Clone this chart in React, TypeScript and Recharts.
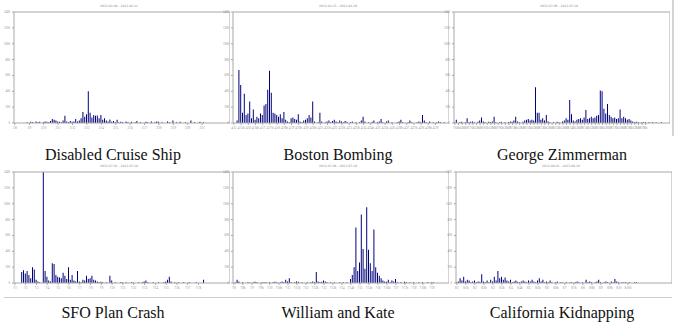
import { BarChart, Bar, XAxis, YAxis } from 'recharts';

// tweet volume per time bin
const cruiseShip = [
  0, 0, 0, 0, 0, 0, 0, 10, 0, 15,
  10, 0, 20, 10, 15, 0, 10, 20, 15, 10,
  25, 50, 40, 30, 20, 15, 10, 30, 90, 20,
  10, 25, 15, 20, 50, 20, 30, 60, 140, 80,
  110, 400, 130, 70, 100, 90, 95, 60, 100, 40,
  60, 30, 20, 45, 15, 25, 10, 40, 5, 15,
  10, 0, 20, 10, 0, 15, 0, 10, 25, 0,
  10, 0, 0, 15, 10, 0, 20, 0, 10, 20,
  15, 0, 10, 0, 0, 20, 10, 0, 30, 0,
  10, 0, 15, 0, 0, 10, 0, 0, 30, 0,
  10, 0, 0, 15, 0, 10, 0, 0, 0, 0,
  0, 0, 0, 0, 0, 0, 0, 0, 0, 0,
];

const bostonBombing = [
  0, 0, 30, 670, 480, 130, 370, 100, 120, 270,
  60, 170, 40, 80, 60, 120, 100, 220, 240, 420,
  660, 380, 130, 120, 100, 80, 110, 60, 140, 40,
  20, 10, 60, 70, 50, 40, 110, 20, 10, 30,
  40, 60, 100, 70, 270, 20, 0, 10, 130, 20,
  0, 10, 20, 30, 10, 25, 40, 20, 10, 30,
  20, 10, 25, 15, 0, 10, 20, 0, 10, 0,
  10, 30, 80, 20, 0, 10, 0, 15, 30, 0,
  10, 20, 50, 10, 0, 20, 30, 0, 10, 0,
  0, 10, 20, 40, 10, 0, 0, 10, 30, 10,
  0, 0, 10, 20, 10, 100, 30, 10, 0, 20,
  0, 10, 0, 10, 20, 10, 0, 10, 0, 0,
];

const georgeZimmerman = [
  10, 40, 0, 10, 15, 0, 10, 60, 10, 15,
  20, 10, 0, 15, 30, 70, 20, 10, 0, 15,
  10, 20, 80, 10, 0, 10, 15, 0, 10, 0,
  10, 20, 15, 30, 80, 20, 10, 0, 15, 30,
  40, 50, 30, 40, 30, 450, 130, 130, 40, 60,
  30, 100, 20, 10, 0, 10, 0, 15, 10, 0,
  20, 30, 60, 40, 290, 110, 30, 20, 40, 50,
  60, 40, 70, 165, 50, 60, 80, 60, 70, 90,
  100, 410, 400, 180, 120, 240, 100, 80, 60, 70,
  50, 60, 170, 60, 80, 60, 40, 50, 30, 20,
  10, 15, 10, 0, 10, 5, 10, 0, 10, 0,
  10, 0, 5, 0, 0, 10, 0, 0, 0, 0,
];

const sfoCrash = [
  0, 0, 0, 0, 140, 160, 120, 150, 100, 60,
  200, 170, 40, 20, 10, 0, 1400, 150, 80, 30,
  20, 250, 240, 100, 80, 70, 60, 130, 90, 50,
  200, 40, 100, 30, 20, 150, 20, 10, 40, 30,
  90, 50, 60, 90, 40, 30, 20, 10, 15, 10,
  0, 10, 0, 90, 30, 0, 10, 0, 0, 10,
  5, 0, 10, 0, 0, 10, 5, 0, 0, 10,
  0, 10, 20, 30, 10, 0, 0, 10, 0, 0,
  10, 0, 0, 10, 20, 40, 80, 20, 0, 10,
  0, 10, 0, 0, 10, 0, 0, 10, 0, 0,
  0, 10, 0, 0, 0, 40, 0, 0, 0, 0,
  0, 0, 0, 0, 0, 0, 0, 0, 0, 0,
];

const williamKate = [
  0, 10, 40, 20, 0, 10, 0, 0, 10, 5,
  0, 10, 15, 10, 0, 0, 10, 5, 10, 0,
  10, 0, 10, 15, 10, 0, 10, 20, 10, 40,
  20, 60, 10, 0, 10, 20, 15, 0, 10, 0,
  0, 10, 0, 10, 20, 10, 140, 20, 10, 15,
  30, 20, 10, 0, 10, 0, 10, 0, 0, 10,
  0, 10, 0, 10, 0, 50, 100, 200, 700, 150,
  260, 865, 430, 180, 955, 420, 250, 150, 675, 200,
  130, 90, 60, 30, 20, 15, 40, 10, 30, 20,
  50, 10, 0, 10, 0, 15, 10, 0, 10, 0,
  10, 0, 0, 10, 0, 10, 0, 0, 10, 0,
  5, 10, 0, 0, 0, 0, 0, 0, 0, 0,
];

const californiaKidnapping = [
  10, 20, 60, 30, 80, 20, 40, 30, 10, 20,
  30, 10, 20, 15, 110, 20, 10, 30, 10, 40,
  20, 80, 30, 150, 60, 80, 40, 70, 30, 20,
  40, 10, 20, 30, 15, 10, 20, 30, 20, 10,
  30, 20, 40, 20, 10, 30, 60, 20, 40, 10,
  20, 10, 30, 10, 0, 10, 20, 0, 10, 5,
  0, 10, 0, 5, 10, 0, 10, 20, 10, 0,
  10, 0, 40, 10, 20, 10, 0, 10, 20, 40,
  10, 0, 10, 20, 10, 0, 20, 10, 50, 20,
  10, 0, 10, 5, 10, 0, 10, 0, 0, 10,
  10, 0, 0, 0, 0, 0, 0, 0, 0, 0,
  0, 0, 0, 0, 0, 0, 0, 0, 0, 0,
];

const yTicks = [0, 200, 400, 600, 800, 1000, 1200, 1400];

const cruiseTicks = '2/8 2/9 2/10 2/11 2/12 2/13 2/14 2/15 2/16 2/17 2/18 2/19 2/20 2/21'.split(' ');
const bostonTicks = (
  '4/15 4/15h 4/16 4/16h 4/17 4/17h 4/18 4/18h 4/19 4/19h 4/20 4/20h 4/21 4/21h 4/22 ' +
  '4/22h 4/23 4/23h 4/24 4/24h 4/25 4/25h 4/26 4/26h 4/27 4/27h 4/28 4/28h 4/29'
).split(' ');
const zimmermanTicks = (
  '7/6 6h 12h 18h 7/7 6h 12h 18h 7/8 6h 12h 18h 7/9 6h 12h 18h 7/10 6h 12h 18h ' +
  '7/11 6h 12h 18h 7/12 6h 12h 18h 7/13 6h 12h 18h 7/14 6h 12h 18h 7/15 6h 12h 18h ' +
  '7/16 6h 12h 18h 7/17 6h 12h 18h 7/18 6h 12h 18h 7/19 6h'
).split(' ');
const sfoTicks = '7/1 7/2 7/3 7/4 7/5 7/6 7/7 7/8 7/9 7/10 7/11 7/12 7/13 7/14 7/15 7/16 7/17 7/18'.split(' ');
const kateTicks = (
  '7/8 7/8h 7/9 7/9h 7/10 7/10h 7/11 7/11h 7/12 7/12h 7/13 7/13h 7/14 7/14h 7/15 7/15h ' +
  '7/16 7/16h 7/17 7/17h 7/18 7/18h 7/19'
).split(' ');
const kidnapTicks = (
  '8/1 8/1h 8/2 8/2h 8/3 8/3h 8/4 8/4h 8/5 8/5h 8/6 8/6h 8/7 8/7h 8/8 8/8h 8/9 8/9h 8/10 8/10h'
).split(' ');

const axisColor = '#a8a8a8';
const labelColor = '#8a8a8a';

interface PanelProps {
  values: number[];
  tickLabels: string[];
  step: number;
  range: string;
  left: number;
  top: number;
}

function Panel({ values, tickLabels, step, range, left, top }: PanelProps) {
  const data = values.map((v, i) => ({ i, v }));
  const ticks = tickLabels.map((_, k) => k * step);
  return (
    <div style={{ position: 'absolute', left, top, width: 230, height: 133 }}>
      <div
        style={{
          position: 'absolute',
          left: 14,
          width: 210,
          top: 4,
          textAlign: 'center',
          fontSize: 3,
          lineHeight: '4px',
          color: labelColor,
          fontFamily: 'DejaVu Sans',
        }}
      >
        {range}
      </div>
      <BarChart
        width={230}
        height={133}
        data={data}
        margin={{ top: 12, right: 0, bottom: 0, left: 0 }}
        barCategoryGap={0}
        barGap={0}
      >
        <XAxis
          xAxisId="b"
          dataKey="i"
          ticks={ticks}
          interval={0}
          tickFormatter={(v: number) => tickLabels[Math.round(v / step)] ?? ''}
          tickSize={2}
          tick={{ fontSize: 3, fill: labelColor }}
          stroke={axisColor}
          height={10}
        />
        <XAxis
          xAxisId="t"
          dataKey="i"
          orientation="top"
          mirror
          ticks={ticks}
          interval={0}
          tick={false}
          tickSize={2}
          stroke={axisColor}
          height={1}
        />
        <YAxis
          yAxisId="l"
          domain={[0, 1400]}
          ticks={yTicks}
          interval={0}
          width={14}
          tickSize={2}
          tick={{ fontSize: 3, fill: labelColor }}
          stroke={axisColor}
        />
        <YAxis
          yAxisId="r"
          orientation="right"
          mirror
          domain={[0, 1400]}
          ticks={yTicks}
          interval={0}
          width={6}
          tickSize={2}
          tick={false}
          stroke={axisColor}
        />
        <Bar
          xAxisId="b"
          yAxisId="l"
          dataKey="v"
          fill="#00007a"
          barSize={1}
          isAnimationActive={false}
        />
      </BarChart>
    </div>
  );
}

const titleStyle = {
  position: 'absolute' as const,
  width: 220,
  textAlign: 'center' as const,
  fontFamily: '"Liberation Serif", "Times New Roman", serif',
  fontSize: 16,
  lineHeight: '16px',
  color: '#111',
};

export default function App() {
  return (
    <div
      style={{
        position: 'absolute',
        left: 0,
        top: 0,
        width: 675,
        height: 322,
        background: '#fff',
        overflow: 'hidden',
      }}
    >
      <Panel values={cruiseShip} tickLabels={cruiseTicks} step={8} range="2013-02-08 - 2013-02-21" left={0} top={0} />
      <Panel values={bostonBombing} tickLabels={bostonTicks} step={4} range="2013-04-15 - 2013-04-29" left={219} top={0} />
      <Panel values={georgeZimmerman} tickLabels={zimmermanTicks} step={2} range="2013-07-06 - 2013-07-19" left={440} top={0} />
      <Panel values={sfoCrash} tickLabels={sfoTicks} step={6} range="2013-07-01 - 2013-07-18" left={0} top={160} />
      <Panel values={williamKate} tickLabels={kateTicks} step={5} range="2013-07-08 - 2013-07-19" left={219} top={160} />
      <Panel values={californiaKidnapping} tickLabels={kidnapTicks} step={5} range="2013-08-01 - 2013-08-10" left={442} top={160} />

      <div style={{ ...titleStyle, left: 3, top: 147 }}>Disabled Cruise Ship</div>
      <div style={{ ...titleStyle, left: 228, top: 147 }}>Boston Bombing</div>
      <div style={{ ...titleStyle, left: 452, top: 147 }}>George Zimmerman</div>
      <div style={{ ...titleStyle, left: 3, top: 305 }}>SFO Plan Crash</div>
      <div style={{ ...titleStyle, left: 228, top: 305 }}>William and Kate</div>
      <div style={{ ...titleStyle, left: 452, top: 305 }}>California Kidnapping</div>

      <div style={{ position: 'absolute', left: 672, top: 0, width: 2, height: 136, background: '#d4d4d4' }} />
      <div style={{ position: 'absolute', left: 4, top: 297, width: 668, height: 1, background: '#cfcfcf' }} />
    </div>
  );
}
